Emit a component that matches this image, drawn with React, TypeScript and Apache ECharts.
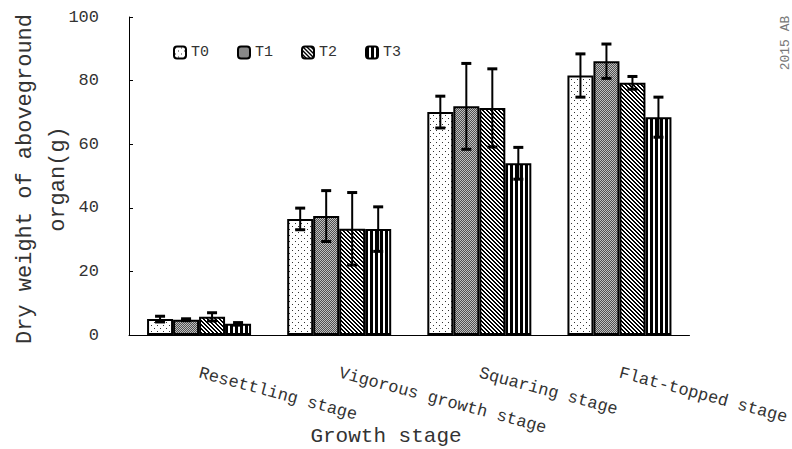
import React, { useEffect, useRef } from "react";
import * as echarts from "echarts";

// Growth stages on the category axis
const stages = [
  "Resettling stage",
  "Vigorous growth stage",
  "Squaring stage",
  "Flat-topped stage",
];

const treatments = ["T0", "T1", "T2", "T3"];

// Mean dry weight (g) per treatment, one value per stage
const t0Mean = [5.0, 36.5, 70.1, 81.6];
const t1Mean = [4.8, 37.4, 71.9, 86.1];
const t2Mean = [5.7, 33.4, 71.4, 79.3];
const t3Mean = [3.5, 33.3, 54.0, 68.5];

// Standard deviations for the error bars
const t0Sd = [0.9, 3.4, 5.0, 6.8];
const t1Sd = [0.3, 8.0, 13.5, 5.4];
const t2Sd = [1.3, 11.4, 12.3, 2.0];
const t3Sd = [0.4, 7.0, 5.0, 6.3];

const yTicks = { min: 0, max: 100, interval: 20 };

const FONT = "'Liberation Mono', 'DejaVu Sans Mono', monospace";
const TEXT = "#333";
const BAR_W = 26;

function makeTile(
  w: number,
  h: number,
  draw: (ctx: CanvasRenderingContext2D) => void
): HTMLCanvasElement {
  const c = document.createElement("canvas");
  c.width = w;
  c.height = h;
  const ctx = c.getContext("2d")!;
  draw(ctx);
  return c;
}

function buildPatterns() {
  // sparse dots on white
  const dots = makeTile(6, 6, (ctx) => {
    ctx.fillStyle = "#fff";
    ctx.fillRect(0, 0, 6, 6);
    ctx.fillStyle = "#333";
    ctx.fillRect(1, 1, 1, 1);
    ctx.fillRect(4, 4, 1, 1);
  });
  // fine grey checker
  const checker = makeTile(2, 2, (ctx) => {
    ctx.fillStyle = "#505050";
    ctx.fillRect(0, 0, 2, 2);
    ctx.fillStyle = "#c0c0c0";
    ctx.fillRect(0, 0, 1, 1);
    ctx.fillRect(1, 1, 1, 1);
  });
  // back-slash hatch
  const hatch = makeTile(4, 4, (ctx) => {
    ctx.fillStyle = "#fff";
    ctx.fillRect(0, 0, 4, 4);
    ctx.fillStyle = "#000";
    for (let y = 0; y < 4; y++) {
      for (let x = 0; x < 4; x++) {
        const d = (((x - y) % 4) + 4) % 4;
        if (d === 0 || d === 1) ctx.fillRect(x, y, 1, 1);
      }
    }
  });
  // vertical stripes
  const stripes = makeTile(5, 1, (ctx) => {
    ctx.fillStyle = "#000";
    ctx.fillRect(0, 0, 5, 1);
    ctx.fillStyle = "#fff";
    ctx.fillRect(3, 0, 2, 1);
  });
  return [dots, checker, hatch, stripes];
}

export default function App() {
  const ref = useRef<HTMLDivElement>(null);

  useEffect(() => {
    if (!ref.current) return;
    const chart = echarts.init(ref.current, null, { renderer: "svg" });
    const tiles = buildPatterns();
    const means = [t0Mean, t1Mean, t2Mean, t3Mean];
    const sds = [t0Sd, t1Sd, t2Sd, t3Sd];

    const barSeries = treatments.map((name, s) => ({
      name,
      type: "bar",
      barWidth: BAR_W,
      barGap: "0%",
      data: means[s],
      itemStyle: {
        color: { image: tiles[s], repeat: "repeat" },
        borderColor: "#000",
        borderWidth: 2,
      },
      emphasis: { disabled: true },
    }));

    const errData: number[][] = [];
    means.forEach((m, s) =>
      m.forEach((v, i) => errData.push([i, v, sds[s][i], s]))
    );

    const option: any = {
      animation: false,
      backgroundColor: "#fff",
      legend: {
        data: treatments,
        left: 173,
        top: 45,
        padding: 0,
        itemWidth: 12,
        itemHeight: 12,
        itemGap: 28,
        textStyle: { fontFamily: FONT, fontSize: 15, color: TEXT },
      },
      grid: { left: 129, right: 102, top: 17, bottom: 114 },
      xAxis: {
        type: "category",
        data: stages,
        axisLine: { lineStyle: { color: "#000", width: 1 } },
        axisTick: { inside: true, length: 4, lineStyle: { color: "#000" } },
        axisLabel: {
          rotate: -15,
          margin: 38,
          fontFamily: FONT,
          fontSize: 17,
          color: TEXT,
          interval: 0,
        },
      },
      yAxis: {
        type: "value",
        ...yTicks,
        axisLine: { show: true, lineStyle: { color: "#000", width: 1 } },
        axisTick: {
          show: true,
          inside: true,
          length: 4,
          lineStyle: { color: "#000" },
        },
        splitLine: { show: false },
        axisLabel: {
          margin: 30,
          fontFamily: FONT,
          fontSize: 17,
          color: TEXT,
        },
      },
      series: [
        ...barSeries,
        {
          type: "custom",
          name: "sd",
          z: 5,
          data: errData,
          encode: { x: 0, y: 1 },
          renderItem: (params: any, api: any) => {
            const cat = api.value(0);
            const mean = api.value(1);
            const sd = api.value(2);
            const s = api.value(3);
            const top = api.coord([cat, mean + sd]);
            const bot = api.coord([cat, mean - sd]);
            const x = top[0] + (s - 1.5) * BAR_W;
            const half = 5;
            const st = { stroke: "#000", lineWidth: 2 };
            return {
              type: "group",
              children: [
                {
                  type: "line",
                  shape: { x1: x, y1: top[1], x2: x, y2: bot[1] },
                  style: st,
                },
                {
                  type: "line",
                  shape: { x1: x - half, y1: top[1], x2: x + half, y2: top[1] },
                  style: { ...st, lineWidth: 3 },
                },
                {
                  type: "line",
                  shape: { x1: x - half, y1: bot[1], x2: x + half, y2: bot[1] },
                  style: { ...st, lineWidth: 3 },
                },
              ],
            };
          },
        },
      ],
      graphic: [
        {
          type: "text",
          x: 42,
          y: 179,
          rotation: Math.PI / 2,
          style: {
            text: "Dry weight of aboveground\norgan(g)",
            align: "center",
            verticalAlign: "middle",
            font: `22px ${FONT}`,
            lineHeight: 33,
            fill: TEXT,
          },
        },
        {
          type: "text",
          x: 386,
          y: 436,
          style: {
            text: "Growth stage",
            align: "center",
            verticalAlign: "middle",
            font: `21px ${FONT}`,
            fill: TEXT,
          },
        },
        {
          type: "text",
          x: 785,
          y: 43,
          rotation: Math.PI / 2,
          style: {
            text: "2015 AB",
            align: "center",
            verticalAlign: "middle",
            font: `13px ${FONT}`,
            fill: "#777",
          },
        },
      ],
    };

    chart.setOption(option);
    return () => chart.dispose();
  }, []);

  return (
    <div
      ref={ref}
      style={{ position: "fixed", left: 0, top: 0, width: 792, height: 449 }}
    />
  );
}
